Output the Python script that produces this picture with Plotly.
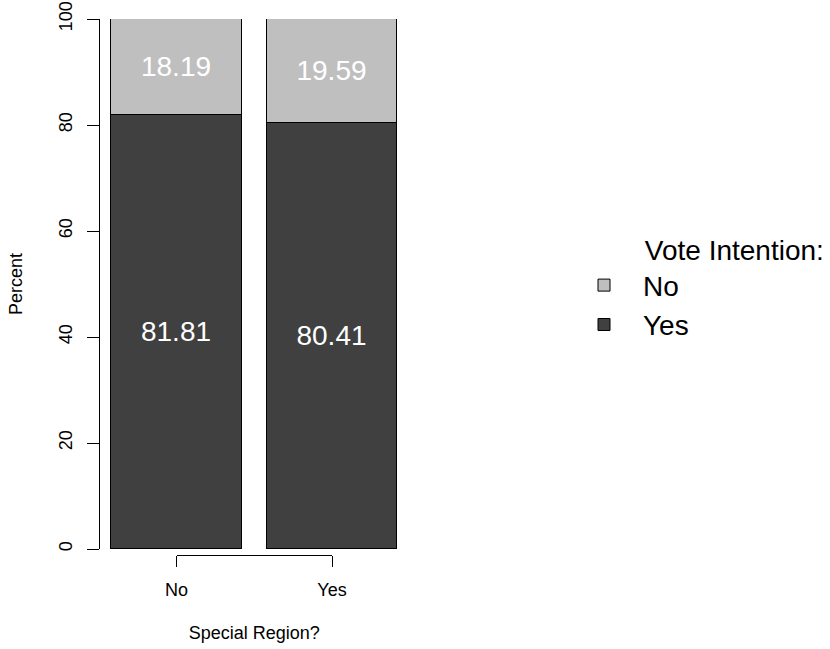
import plotly.graph_objects as go

# Data
regions = ["No", "Yes"]            # Special Region?
pct_yes = [81.81, 80.41]           # Vote Intention: Yes
pct_no = [18.19, 19.59]            # Vote Intention: No
y_ticks = [0, 20, 40, 60, 80, 100]

FONT = "Liberation Sans, Arial, Helvetica, sans-serif"
DARK = "#404040"
LIGHT = "#BFBFBF"

fig = go.Figure()
fig.add_trace(go.Bar(
    x=regions, y=pct_yes, name="Yes", width=0.839,
    marker=dict(color=DARK, line=dict(color="black", width=1)),
    texttemplate="%{y:.2f}", textposition="inside", insidetextanchor="middle",
    textfont=dict(color="white", size=28, family=FONT), hoverinfo="skip",
))
fig.add_trace(go.Bar(
    x=regions, y=pct_no, name="No", width=0.839,
    marker=dict(color=LIGHT, line=dict(color="black", width=1)),
    texttemplate="%{y:.2f}", textposition="inside", insidetextanchor="middle",
    textfont=dict(color="white", size=28, family=FONT), hoverinfo="skip",
))
# carrier for the bracket-style category axis
fig.add_trace(go.Scatter(x=regions, y=[None, None], xaxis="x2", yaxis="y",
                         showlegend=False, hoverinfo="skip", mode="markers"))

W, H = 830, 649
OFF = 0  # body margin removed below
ml, mr, mt, mb = 100, 422, 19, 80
pw = W - ml - mr
ph = H - mt - mb
paper_left = ml + OFF
paper_bottom = H + OFF - mb


def py(y_screen):
    return (paper_bottom - y_screen) / ph


def px(x_screen):
    return (x_screen - paper_left) / pw


fig.update_layout(
    width=W, height=H,
    margin=dict(l=ml, r=mr, t=mt, b=mb, pad=0, autoexpand=False),
    paper_bgcolor="white", plot_bgcolor="rgba(0,0,0,0)",
    barmode="stack", bargap=0,
    font=dict(family=FONT, size=18, color="black"),
    xaxis=dict(type="category", range=[-0.492, 1.489], domain=[0, 1],
               showline=False, showticklabels=False, ticks="", showgrid=False,
               zeroline=False, automargin=False),
    xaxis2=dict(type="category", range=[0, 1], anchor="free",
                position=py(555),
                domain=[px(176.5), px(332)],
                showline=True, linecolor="black", linewidth=1,
                ticks="outside", ticklen=11, tickcolor="black", tickwidth=1,
                showgrid=False, zeroline=False, automargin=False,
                ticklabelstandoff=7, ticklabeloverflow="allow",
                tickfont=dict(size=18, family=FONT),
                title=dict(text="Special Region?", font=dict(size=18, family=FONT),
                           standoff=27)),
    yaxis=dict(range=[0, 100], domain=[py(549), 1],
               tickvals=y_ticks, ticktext=[str(v) for v in y_ticks],
               showline=True, linecolor="black", linewidth=1,
               ticks="outside", ticklen=12, tickcolor="black", tickwidth=1,
               tickangle=-90, showgrid=False, zeroline=False, automargin=False,
               ticklabelstandoff=8, ticklabeloverflow="allow",
               tickfont=dict(size=18, family=FONT),
               title=dict(text="Percent", font=dict(size=18, family=FONT),
                          standoff=28)),
    legend=dict(
        x=px(565), xanchor="left", y=py(287), yanchor="middle",
        traceorder="reversed", itemwidth=68,
        font=dict(size=28, family=FONT), bgcolor="rgba(0,0,0,0)",
        title=dict(text="\u00a0" * 10 + "Vote Intention:", font=dict(size=28, family=FONT)),
        tracegroupgap=0,
    ),
    showlegend=True,
)

fig.write_html("out.html", config={"displayModeBar": False},
               post_script="document.body.style.margin='0';")
